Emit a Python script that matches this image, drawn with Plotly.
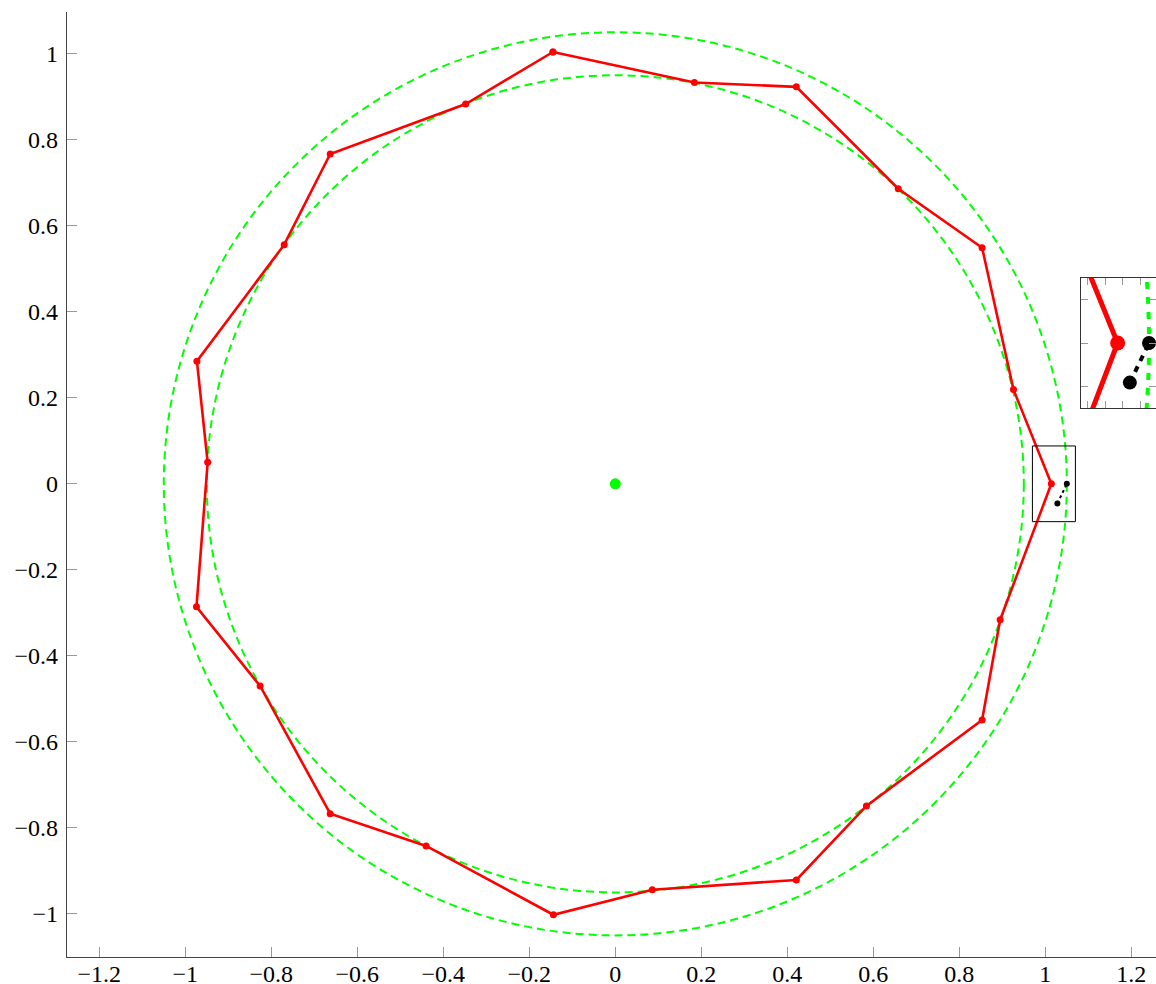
import plotly.graph_objects as go

# ---- data ----
poly_x = [-0.145, 0.184, 0.421, 0.658, 0.853, 0.926, 1.014, 0.895, 0.853, 0.584,
          0.421, 0.086, -0.144, -0.440, -0.663, -0.826, -0.974, -0.948, -0.973,
          -0.770, -0.663, -0.348, -0.145]
poly_y = [1.004, 0.933, 0.923, 0.686, 0.549, 0.219, 0.0, -0.316, -0.549, -0.749,
          -0.921, -0.944, -1.002, -0.842, -0.767, -0.470, -0.286, 0.050, 0.285,
          0.556, 0.767, 0.883, 1.004]
black_x = [1.028, 1.050]
black_y = [-0.046, 0.0]
center_x = [0.0]
center_y = [0.0]
circle_radii = [0.95, 1.05]

x_tickvals = [-1.2, -1.0, -0.8, -0.6, -0.4, -0.2, 0.0, 0.2, 0.4, 0.6, 0.8, 1.0, 1.2]
x_ticktext = ["\u22121.2", "\u22121", "\u22120.8", "\u22120.6", "\u22120.4", "\u22120.2",
              "0", "0.2", "0.4", "0.6", "0.8", "1", "1.2"]
y_tickvals = [-1.0, -0.8, -0.6, -0.4, -0.2, 0.0, 0.2, 0.4, 0.6, 0.8, 1.0]
y_ticktext = ["\u22121", "\u22120.8", "\u22120.6", "\u22120.4", "\u22120.2",
              "0", "0.2", "0.4", "0.6", "0.8", "1"]
inset_xticks = [0.98, 1.00, 1.02, 1.04]
inset_yticks = [-0.05, 0.0, 0.05]
spy_box = [0.970, 1.070, -0.088, 0.088]

RED = "#ff0000"
GREEN = "#00ff00"
FONT = "Liberation Serif, DejaVu Serif, serif"

fig = go.Figure()

# main axes
fig.add_trace(go.Scatter(x=poly_x, y=poly_y, mode="lines+markers",
                         line=dict(color=RED, width=2.6),
                         marker=dict(color=RED, size=7),
                         xaxis="x", yaxis="y", showlegend=False))
fig.add_trace(go.Scatter(x=black_x, y=black_y, mode="lines+markers",
                         line=dict(color="black", width=2, dash="3px,3px"),
                         marker=dict(color="black", size=6),
                         xaxis="x", yaxis="y", showlegend=False))
fig.add_trace(go.Scatter(x=center_x, y=center_y, mode="markers",
                         marker=dict(color=GREEN, size=11),
                         xaxis="x", yaxis="y", showlegend=False))

# inset axes
fig.add_trace(go.Scatter(x=poly_x, y=poly_y, mode="lines+markers",
                         line=dict(color=RED, width=5),
                         marker=dict(color=RED, size=15),
                         xaxis="x2", yaxis="y2", showlegend=False))
fig.add_trace(go.Scatter(x=black_x, y=black_y, mode="lines+markers",
                         line=dict(color="black", width=4, dash="6px,6px"),
                         marker=dict(color="black", size=14),
                         xaxis="x2", yaxis="y2", showlegend=False))

shapes = []
for r in circle_radii:
    shapes.append(dict(type="circle", xref="x", yref="y", x0=-r, x1=r, y0=-r, y1=r,
                       line=dict(color=GREEN, width=2, dash="8px,5px"), layer="below"))
    shapes.append(dict(type="circle", xref="x2", yref="y2", x0=-r, x1=r, y0=-r, y1=r,
                       line=dict(color=GREEN, width=4, dash="7px,8px"), layer="below"))
shapes.append(dict(type="rect", xref="x", yref="y", x0=spy_box[0], x1=spy_box[1],
                   y0=spy_box[2], y1=spy_box[3], line=dict(color="black", width=1),
                   layer="above"))

W, H = 1156, 984
PL, PR, PT, PB = 67, 1156, 12, 957       # plot area in page pixels
L, T, R, B = PL, PT, W - PR, H - PB
pw, ph = W - L - R, H - T - B

axis_common = dict(showline=True, linecolor="#444", linewidth=1.2, ticks="inside",
                   ticklen=10, tickcolor="#999", tickwidth=1, showgrid=False,
                   zeroline=False, automargin=False,
                   tickfont=dict(family=FONT, size=24, color="black"))

fig.update_layout(
    width=W, height=H,
    margin=dict(l=L, r=R, t=T, b=B, pad=0),
    paper_bgcolor="white", plot_bgcolor="white",
    shapes=shapes,
    xaxis=dict(domain=[0, 1], range=[-1.2751, 1.2574], anchor="y",
               tickvals=x_tickvals, ticktext=x_ticktext, ticklabelstandoff=-5,
               **axis_common),
    yaxis=dict(domain=[0, 1], range=[-1.1002, 1.097], anchor="x",
               tickvals=y_tickvals, ticktext=y_ticktext, ticklabelstandoff=3,
               **axis_common),
    xaxis2=dict(domain=[(1081 - PL) / pw, 1], range=[0.972, 1.058], anchor="y2",
                showline=True, linecolor="#333", linewidth=1.2, mirror="ticks",
                ticks="inside", ticklen=7, tickcolor="#999", tickwidth=1,
                tickvals=inset_xticks, showticklabels=False, showgrid=False,
                zeroline=False, automargin=False),
    yaxis2=dict(domain=[(PB - 408) / ph, (PB - 278) / ph], range=[-0.0755, 0.0755],
                anchor="x2", showline=True, linecolor="#333", linewidth=1.2,
                mirror="ticks", ticks="inside", ticklen=7, tickcolor="#999",
                tickwidth=1, tickvals=inset_yticks, showticklabels=False,
                showgrid=False, zeroline=False, automargin=False),
)

fig.write_html("out.html",
               config={"displayModeBar": False},
               post_script="document.body.style.margin='0px';"
                           "document.body.style.overflow='hidden';")
